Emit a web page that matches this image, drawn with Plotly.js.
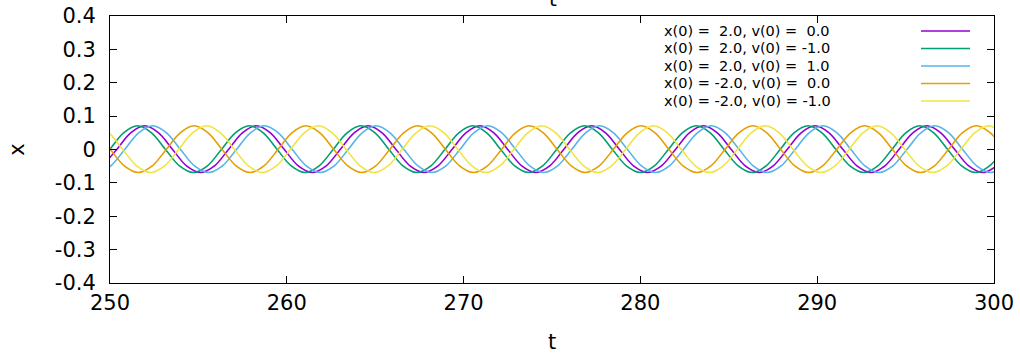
<!DOCTYPE html>
<html>
<head>
<meta charset="utf-8">
<script src="https://cdn.plot.ly/plotly-3.0.1.min.js"></script>
<style>
  html, body { margin: 0; padding: 0; background: #ffffff; }
  #chart { width: 1020px; height: 354px; }
</style>
</head>
<body>
<div id="chart"></div>
<script>
// ---- Data ----
const seriesNames = [
  "x(0) =\u00A0 2.0, v(0) =\u00A0 0.0",
  "x(0) =\u00A0 2.0, v(0) = -1.0",
  "x(0) =\u00A0 2.0, v(0) =\u00A0 1.0",
  "x(0) = -2.0, v(0) =\u00A0 0.0",
  "x(0) = -2.0, v(0) = -1.0"
];
const seriesColors = ["#9400d3", "#009e73", "#56b4e9", "#e69f00", "#f0e442"];

// x(0)=2, v(0)=0
const tPurple = [249.59, 250.38, 251.17,
  251.96, 252.75, 253.54, 254.33, 255.12, 255.91, 256.70, 257.49,
  258.28, 259.07, 259.86, 260.65, 261.44, 262.23, 263.02, 263.81,
  264.60, 265.39, 266.18, 266.97, 267.76, 268.55, 269.34, 270.13,
  270.92, 271.71, 272.50, 273.29, 274.08, 274.87, 275.66, 276.45,
  277.24, 278.03, 278.82, 279.61, 280.40, 281.19, 281.98, 282.77,
  283.56, 284.35, 285.14, 285.93, 286.72, 287.51, 288.30, 289.09,
  289.88, 290.67, 291.46, 292.25, 293.04, 293.83, 294.62, 295.41,
  296.20, 296.99, 297.78, 298.57, 299.36, 300.15];
const xPurple = [-0.049, 0, 0.05,
  0.071, 0.05, 0, -0.049, -0.069, -0.049, 0, 0.05,
  0.071, 0.05, 0, -0.049, -0.069, -0.049, 0, 0.05,
  0.071, 0.05, 0, -0.049, -0.069, -0.049, 0, 0.05,
  0.071, 0.05, 0, -0.049, -0.069, -0.049, 0, 0.05,
  0.071, 0.05, 0, -0.049, -0.069, -0.049, 0, 0.05,
  0.071, 0.05, 0, -0.049, -0.069, -0.049, 0, 0.05,
  0.071, 0.05, 0, -0.049, -0.069, -0.049, 0, 0.05,
  0.071, 0.05, 0, -0.049, -0.069, -0.049];

// x(0)=2, v(0)=-1
const tGreen = [249.19, 249.98, 250.77,
  251.56, 252.35, 253.14, 253.93, 254.72, 255.51, 256.30, 257.09,
  257.88, 258.67, 259.46, 260.25, 261.04, 261.83, 262.62, 263.41,
  264.20, 264.99, 265.78, 266.57, 267.36, 268.15, 268.94, 269.73,
  270.52, 271.31, 272.10, 272.89, 273.68, 274.47, 275.26, 276.05,
  276.84, 277.63, 278.42, 279.21, 280.00, 280.79, 281.58, 282.37,
  283.16, 283.95, 284.74, 285.53, 286.32, 287.11, 287.90, 288.69,
  289.48, 290.27, 291.06, 291.85, 292.64, 293.43, 294.22, 295.01,
  295.80, 296.59, 297.38, 298.17, 298.96, 299.75, 300.54];
const xGreen = [-0.049, 0, 0.05,
  0.071, 0.05, 0, -0.049, -0.069, -0.049, 0, 0.05,
  0.071, 0.05, 0, -0.049, -0.069, -0.049, 0, 0.05,
  0.071, 0.05, 0, -0.049, -0.069, -0.049, 0, 0.05,
  0.071, 0.05, 0, -0.049, -0.069, -0.049, 0, 0.05,
  0.071, 0.05, 0, -0.049, -0.069, -0.049, 0, 0.05,
  0.071, 0.05, 0, -0.049, -0.069, -0.049, 0, 0.05,
  0.071, 0.05, 0, -0.049, -0.069, -0.049, 0, 0.05,
  0.071, 0.05, 0, -0.049, -0.069, -0.049, 0];

// x(0)=2, v(0)=1
const tBlue = [249.25, 250.04, 250.83, 251.62,
  252.41, 253.20, 253.99, 254.78, 255.57, 256.36, 257.15, 257.94,
  258.73, 259.52, 260.31, 261.10, 261.89, 262.68, 263.47, 264.26,
  265.05, 265.84, 266.63, 267.42, 268.21, 269.00, 269.79, 270.58,
  271.37, 272.16, 272.95, 273.74, 274.53, 275.32, 276.11, 276.90,
  277.69, 278.48, 279.27, 280.06, 280.85, 281.64, 282.43, 283.22,
  284.01, 284.80, 285.59, 286.38, 287.17, 287.96, 288.75, 289.54,
  290.33, 291.12, 291.91, 292.70, 293.49, 294.28, 295.07, 295.86,
  296.65, 297.44, 298.23, 299.02, 299.81, 300.60];
const xBlue = [-0.069, -0.049, 0, 0.05,
  0.071, 0.05, 0, -0.049, -0.069, -0.049, 0, 0.05,
  0.071, 0.05, 0, -0.049, -0.069, -0.049, 0, 0.05,
  0.071, 0.05, 0, -0.049, -0.069, -0.049, 0, 0.05,
  0.071, 0.05, 0, -0.049, -0.069, -0.049, 0, 0.05,
  0.071, 0.05, 0, -0.049, -0.069, -0.049, 0, 0.05,
  0.071, 0.05, 0, -0.049, -0.069, -0.049, 0, 0.05,
  0.071, 0.05, 0, -0.049, -0.069, -0.049, 0, 0.05,
  0.071, 0.05, 0, -0.049, -0.069, -0.049];

// x(0)=-2, v(0)=0
const tOrange = [249.23, 250.02, 250.81, 251.60, 252.39, 253.18, 253.97,
  254.76, 255.55, 256.34, 257.13, 257.92, 258.71, 259.50, 260.29,
  261.08, 261.87, 262.66, 263.45, 264.24, 265.03, 265.82, 266.61,
  267.40, 268.19, 268.98, 269.77, 270.56, 271.35, 272.14, 272.93,
  273.72, 274.51, 275.30, 276.09, 276.88, 277.67, 278.46, 279.25,
  280.04, 280.83, 281.62, 282.41, 283.20, 283.99, 284.78, 285.57,
  286.36, 287.15, 287.94, 288.73, 289.52, 290.31, 291.10, 291.89,
  292.68, 293.47, 294.26, 295.05, 295.84, 296.63, 297.42, 298.21,
  299.00, 299.79, 300.58];
const xOrange = [0.05, 0, -0.049, -0.069, -0.049, 0, 0.05,
  0.071, 0.05, 0, -0.049, -0.069, -0.049, 0, 0.05,
  0.071, 0.05, 0, -0.049, -0.069, -0.049, 0, 0.05,
  0.071, 0.05, 0, -0.049, -0.069, -0.049, 0, 0.05,
  0.071, 0.05, 0, -0.049, -0.069, -0.049, 0, 0.05,
  0.071, 0.05, 0, -0.049, -0.069, -0.049, 0, 0.05,
  0.071, 0.05, 0, -0.049, -0.069, -0.049, 0, 0.05,
  0.071, 0.05, 0, -0.049, -0.069, -0.049, 0, 0.05,
  0.071, 0.05, 0];

// x(0)=-2, v(0)=-1
const tYellow = [249.14, 249.93, 250.72, 251.51, 252.30, 253.09, 253.88, 254.67,
  255.46, 256.25, 257.04, 257.83, 258.62, 259.41, 260.20, 260.99,
  261.78, 262.57, 263.36, 264.15, 264.94, 265.73, 266.52, 267.31,
  268.10, 268.89, 269.68, 270.47, 271.26, 272.05, 272.84, 273.63,
  274.42, 275.21, 276.00, 276.79, 277.58, 278.37, 279.16, 279.95,
  280.74, 281.53, 282.32, 283.11, 283.90, 284.69, 285.48, 286.27,
  287.06, 287.85, 288.64, 289.43, 290.22, 291.01, 291.80, 292.59,
  293.38, 294.17, 294.96, 295.75, 296.54, 297.33, 298.12, 298.91,
  299.70, 300.49];
const xYellow = [0.071, 0.05, 0, -0.049, -0.069, -0.049, 0, 0.05,
  0.071, 0.05, 0, -0.049, -0.069, -0.049, 0, 0.05,
  0.071, 0.05, 0, -0.049, -0.069, -0.049, 0, 0.05,
  0.071, 0.05, 0, -0.049, -0.069, -0.049, 0, 0.05,
  0.071, 0.05, 0, -0.049, -0.069, -0.049, 0, 0.05,
  0.071, 0.05, 0, -0.049, -0.069, -0.049, 0, 0.05,
  0.071, 0.05, 0, -0.049, -0.069, -0.049, 0, 0.05,
  0.071, 0.05, 0, -0.049, -0.069, -0.049, 0, 0.05,
  0.071, 0.05];

const xTickVals = [250, 260, 270, 280, 290, 300];
const xTickLabels = ["250", "260", "270", "280", "290", "300"];
const yTickVals = [-0.4, -0.3, -0.2, -0.1, 0, 0.1, 0.2, 0.3, 0.4];
const yTickLabels = ["-0.4", "-0.3", "-0.2", "-0.1", "0", "0.1", "0.2", "0.3", "0.4"];

// ---- Build chart ----
const tSeries = [tPurple, tGreen, tBlue, tOrange, tYellow];
const xSeries = [xPurple, xGreen, xBlue, xOrange, xYellow];

const traces = tSeries.map((t, i) => ({
  type: "scatter",
  mode: "lines",
  x: t,
  y: xSeries[i],
  name: seriesNames[i],
  line: { color: seriesColors[i], width: 1.6, shape: "spline", smoothing: 1 },
  hoverinfo: "skip"
}));

const FONT = "DejaVu Sans, Liberation Sans, Arial, sans-serif";
const plotL = 110, plotR = 994, plotT = 16, plotB = 283;
const px2paperX = p => (p - plotL) / (plotR - plotL);
const px2paperY = p => (plotB - p) / (plotB - plotT);

const legendRows = [31, 48.5, 66, 83.5, 101];
const shapes = [];
const annotations = [];
seriesNames.forEach((name, i) => {
  const yp = px2paperY(legendRows[i]);
  annotations.push({
    xref: "paper", yref: "paper", x: px2paperX(662), y: yp,
    xanchor: "left", yanchor: "middle", showarrow: false,
    text: name, font: { family: FONT, size: 14.5, color: "#000" }
  });
  shapes.push({
    type: "line", xref: "paper", yref: "paper",
    x0: px2paperX(921), x1: px2paperX(970), y0: yp, y1: yp,
    line: { color: seriesColors[i], width: 1.6 }
  });
});
// top title (cut off at the top edge, as in the reference)
annotations.push({
  xref: "paper", yref: "paper", x: px2paperX(553), y: px2paperY(-1),
  xanchor: "center", yanchor: "middle", showarrow: false,
  text: "t", font: { family: FONT, size: 20, color: "#000" }
});

const layout = {
  width: 1020, height: 354,
  margin: { l: plotL, r: 1020 - plotR, t: plotT, b: 354 - plotB },
  paper_bgcolor: "#ffffff", plot_bgcolor: "#ffffff",
  showlegend: false,
  font: { family: FONT, size: 21, color: "#000" },
  xaxis: {
    range: [250, 300], tickvals: xTickVals, ticktext: xTickLabels,
    ticks: "inside", ticklen: 7, tickwidth: 1, tickcolor: "#000",
    showline: true, linecolor: "#000", linewidth: 1, mirror: "ticks",
    showgrid: false, zeroline: false, ticklabelstandoff: 1,
    tickfont: { family: FONT, size: 21, color: "#000" },
    title: { text: "t", font: { family: FONT, size: 21, color: "#000" }, standoff: 22 }
  },
  yaxis: {
    range: [-0.4, 0.4], tickvals: yTickVals, ticktext: yTickLabels,
    ticks: "inside", ticklen: 7, tickwidth: 1, tickcolor: "#000",
    showline: true, linecolor: "#000", linewidth: 1, mirror: "ticks",
    showgrid: false, zeroline: false, ticklabelstandoff: 9,
    tickfont: { family: FONT, size: 21, color: "#000" },
    title: { text: "x", font: { family: FONT, size: 21, color: "#000" }, standoff: 24 }
  },
  shapes: shapes,
  annotations: annotations
};

Plotly.newPlot("chart", traces, layout, { staticPlot: true, displayModeBar: false });
</script>
</body>
</html>
